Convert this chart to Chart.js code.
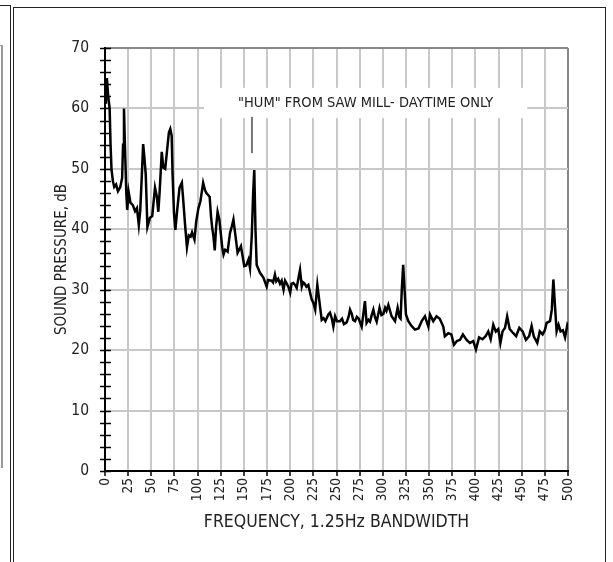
<!DOCTYPE html>
<html>
<head>
<meta charset="utf-8">
<script src="https://cdn.jsdelivr.net/npm/chart.js@4.4.1/dist/chart.umd.min.js"></script>
<style>
    body { margin: 0; background: #fff; }
    #wrap { position: relative; width: 613px; height: 562px; overflow: hidden; }
    #wrap canvas { position: absolute; left: 0; top: 0; }
    .frame { position: absolute; box-sizing: border-box; }
</style>
</head>
<body>
<div id="wrap">
    <!-- edge of the neighbouring figure -->
    <div class="frame" style="left:-5px; top:5px; width:16px; height:600px; border-top:1px solid #222; border-right:1px solid #222;"></div>
    <div class="frame" style="left:-5px; top:45px; width:8px; height:423px; border-top:1px solid #999; border-right:2px solid #999;"></div>
    <!-- this figure's box -->
    <div class="frame" style="left:13px; top:7px; width:593px; height:600px; border:1px solid #222;"></div>
    <canvas id="noiseChart" width="613" height="562"></canvas>
</div>
<script>
// frequency (x) and sound pressure (dB)
const freqHz = [0, 1, 2, 3.5, 5, 6, 7, 8.5, 10, 12, 14, 16.5, 18.5, 19.5, 20.5, 21.5, 23, 24, 25.5, 27.5,
    30, 32.5, 34.5, 36.5, 38, 39.5, 41.2, 42.5, 44, 45.8, 48.5, 51, 54, 56, 57.6, 59, 61.3, 63, 65, 67,
    69, 70.5, 72, 73, 74.5, 76, 78, 80.5, 83, 84.7, 86.5, 88.5, 90.5, 92.5, 94, 96.6, 98.5, 100.9, 103, 106,
    108, 109.5, 113, 114.5, 115.8, 117, 118.5, 120, 121.6, 123.5, 126.6, 128, 129.8, 132.4, 135, 137, 138.7, 140.5, 143.2, 146.8,
    150.4, 152.5, 155, 156.6, 158.5, 160, 161.2, 162.5, 163.8, 167.4, 171, 174.6, 176, 179.9, 181.5, 183.5, 185, 187, 189, 190.8,
    192.8, 194.5, 196, 198, 200, 201.5, 203.4, 205.2, 207, 209, 210.6, 212.5, 214, 215.6, 217.5, 219.6, 221.5, 223, 225, 227,
    229.3, 231.5, 234, 236, 238, 241.2, 243, 245, 246.6, 248.5, 250.5, 253.8, 256, 258, 261, 263, 264.6, 266.5, 268, 270,
    272, 274, 277.2, 279, 280.7, 282.5, 284.5, 286.2, 288, 289.8, 291.5, 293.4, 296.5, 298.5, 300.6, 302.5, 304, 306, 309.5, 313.2,
    316, 318, 319.2, 320.5, 322, 323.5, 325, 327.6, 331, 334.8, 338.5, 342, 345.5, 349.2, 351, 354.5, 358, 361.5, 365.3, 367,
    370.7, 374, 376.9, 380, 383.4, 386.5, 390.5, 394, 397.7, 400.6, 404, 407.7, 411, 413.9, 416.5, 419.3, 422, 424.7, 427, 429.3,
    432, 434.3, 437, 440.9, 444, 447.4, 451, 454.6, 458, 460.7, 463, 466.8, 469.5, 472.6, 475, 476.9, 480.6, 482.5, 484.2, 486,
    487.7, 489.8, 492, 494.5, 496.8, 499.3, 500];
const soundDb = [61, 63, 65, 62, 60, 54, 50, 48, 47, 47.4, 46.3, 47, 48.5, 54, 60, 54, 46, 43.2, 46.2, 44.4,
    44, 43, 43.5, 40.7, 43, 48, 54.1, 52, 49, 40.4, 41.9, 42.2, 46.9, 45.4, 42.9, 46.2, 52.8, 50.2, 50, 53,
    56, 56.6, 55.5, 49, 42.7, 39.9, 43.2, 46.9, 47.7, 44.4, 40.7, 37, 39, 38.8, 39.5, 38.3, 41.3, 43.5, 44.6, 47.7,
    46.5, 46, 45.4, 42.1, 40.2, 39, 36.5, 40.4, 42.9, 41.6, 37, 35.8, 36.6, 36.3, 39.4, 40.5, 41.6, 39.4, 36.1, 37.2,
    33.9, 34, 35, 33.6, 39, 46, 49.8, 40, 34.1, 32.8, 32, 30.5, 31.6, 31.5, 31.2, 32.5, 31.4, 31.8, 31, 31.5,
    30, 31.5, 31.1, 30.5, 29.5, 31, 31.1, 30.8, 30.3, 32, 33.3, 30.5, 31.2, 31, 30.5, 30.8, 29.5, 28.5, 27.8, 26.7,
    30.8, 28.1, 25, 25.3, 24.8, 25.9, 26.2, 25.2, 23.9, 25.6, 24.8, 24.8, 25.2, 24.3, 24.6, 25.5, 26.7, 26, 25, 24.8,
    25.5, 25.2, 23.9, 26, 28.1, 24.5, 25, 24.7, 25.8, 26.7, 25.5, 24.7, 27, 25.8, 26, 27, 26.5, 27.5, 25.6, 24.8,
    27, 25.4, 25.2, 30, 34.1, 30, 25.9, 24.8, 24, 23.4, 23.6, 24.8, 25.6, 23.9, 25.9, 24.8, 25.6, 25.2, 23.9, 22.3,
    22.8, 22.6, 20.9, 21.5, 21.7, 22.6, 21.7, 21.2, 21.5, 20.1, 22.1, 21.8, 22.3, 23.1, 21.8, 24.2, 23.1, 23.5, 21.2, 23.1,
    23.7, 25.6, 23.5, 22.8, 22.3, 23.7, 23.1, 21.7, 22.3, 24, 22.3, 21.2, 23.1, 22.6, 23.3, 24.5, 24.8, 26.7, 31.7, 27.2,
    23.1, 24.2, 23.1, 23.3, 22.1, 24.2, 24];

const xTickValues = [0, 25, 50, 75, 100, 125, 150, 175, 200, 225, 250, 275, 300, 325, 350, 375, 400, 425, 450, 475, 500];
const yTickValues = [0, 10, 20, 30, 40, 50, 60, 70];
const yMinorStep = 2;

const noteText = '"HUM" FROM SAW MILL- DAYTIME ONLY';
const noteBox = { x0: 107, x1: 456, y0: 58.4, y1: 63.4 };   // in data units
const notePointer = { x: 158.7, y0: 52.6, y1: 58.6 };

const FONT = "'DejaVu Sans Condensed', 'Liberation Sans', sans-serif";
Chart.defaults.font.family = FONT;
Chart.defaults.color = '#222';

// white label box over the grid plus the small pointer line
const notePlugin = {
    id: 'note',
    beforeDatasetsDraw(chart) {
        const { ctx, scales: { x, y } } = chart;
        const left = x.getPixelForValue(noteBox.x0);
        const right = x.getPixelForValue(noteBox.x1);
        const top = y.getPixelForValue(noteBox.y1);
        const bottom = y.getPixelForValue(noteBox.y0);
        ctx.save();
        ctx.fillStyle = '#fff';
        ctx.fillRect(left, top, right - left, bottom - top);
        ctx.fillStyle = '#222';
        ctx.font = '14.5px ' + FONT;
        ctx.textAlign = 'center';
        ctx.textBaseline = 'middle';
        ctx.fillText(noteText, (left + right) / 2, (top + bottom) / 2);
        const px = x.getPixelForValue(notePointer.x);
        ctx.strokeStyle = '#777';
        ctx.lineWidth = 2;
        ctx.beginPath();
        ctx.moveTo(px, y.getPixelForValue(notePointer.y1));
        ctx.lineTo(px, y.getPixelForValue(notePointer.y0));
        ctx.stroke();
        ctx.restore();
    }
};

// y tick marks that cross the axis line, every 2 dB
const crossTicksPlugin = {
    id: 'crossTicks',
    afterDraw(chart) {
        const { ctx, scales: { y }, chartArea } = chart;
        ctx.save();
        ctx.strokeStyle = '#000';
        ctx.lineWidth = 1.5;
        for (let v = y.min; v <= y.max; v += yMinorStep) {
            const py = Math.round(y.getPixelForValue(v)) + 0.5;
            ctx.beginPath();
            ctx.moveTo(chartArea.left - 5, py);
            ctx.lineTo(chartArea.left + 6, py);
            ctx.stroke();
        }
        ctx.restore();
    }
};

function initChart() {
    const ctx = document.getElementById('noiseChart').getContext('2d');
    const points = freqHz.map((f, i) => ({ x: f, y: soundDb[i] }));

    new Chart(ctx, {
        type: 'line',
        data: {
            datasets: [{
                data: points,
                borderColor: '#000',
                borderWidth: 2.5,
                pointRadius: 0,
                tension: 0,
                fill: false
            }]
        },
        options: {
            responsive: false,
            animation: false,
            layout: { padding: { left: 53, top: 48, right: 45, bottom: 25 } },
            plugins: {
                legend: { display: false },
                tooltip: { enabled: false }
            },
            scales: {
                x: {
                    type: 'linear',
                    min: 0,
                    max: 500,
                    afterFit: s => { s.height = 66; },
                    afterBuildTicks: s => { s.ticks = xTickValues.map(v => ({ value: v })); },
                    ticks: {
                        autoSkip: false,
                        minRotation: 90,
                        maxRotation: 90,
                        padding: 2,
                        color: '#222',
                        font: { size: 13.5 }
                    },
                    grid: {
                        color: c => c.tick && c.tick.value === 500 ? '#888' : '#c8c8c8',
                        lineWidth: 2,
                        tickLength: 5,
                        tickColor: '#000',
                        tickWidth: 1.5
                    },
                    border: { color: '#000', width: 2 },
                    title: {
                        display: true,
                        text: 'FREQUENCY, 1.25Hz BANDWIDTH',
                        color: '#222',
                        font: { size: 17.5 },
                        padding: { top: 0, bottom: 4 }
                    }
                },
                y: {
                    min: 0,
                    max: 70,
                    afterFit: s => { s.width = 52; },
                    afterBuildTicks: s => { s.ticks = yTickValues.map(v => ({ value: v })); },
                    ticks: {
                        padding: 16,
                        color: '#222',
                        font: { size: 15.5 }
                    },
                    grid: {
                        drawTicks: false,
                        color: c => c.tick && c.tick.value === 70 ? '#888' : '#c8c8c8',
                        lineWidth: 2
                    },
                    border: { color: '#000', width: 2 },
                    title: {
                        display: true,
                        text: 'SOUND PRESSURE, dB',
                        color: '#222',
                        font: { size: 15 },
                        padding: { top: 0, bottom: 0 }
                    }
                }
            }
        },
        plugins: [notePlugin, crossTicksPlugin]
    });
}

initChart();
</script>
</body>
</html>
